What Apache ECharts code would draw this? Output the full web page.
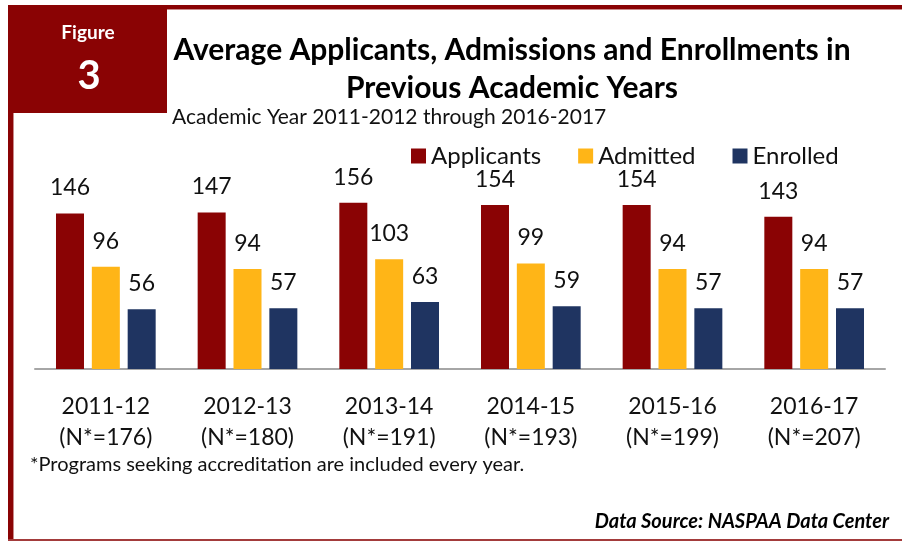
<!DOCTYPE html>
<html>
<head>
<meta charset="utf-8">
<script src="https://cdn.jsdelivr.net/npm/echarts@6/dist/echarts.min.js"></script>
<style>
  html, body { margin: 0; padding: 0; background: #fff; }
  #chart { width: 902px; height: 542px; }
</style>
</head>
<body>
<div id="chart"></div>
<script>
// data
const years = ["2011-12", "2012-13", "2013-14", "2014-15", "2015-16", "2016-17"];
const programCounts = [176, 180, 191, 193, 199, 207];
const applicants = [146, 147, 156, 154, 154, 143];
const admitted = [96, 94, 103, 99, 94, 94];
const enrolled = [56, 57, 63, 59, 57, 57];

const FONT = "Lato, 'Open Sans', sans-serif";
const RED = "#8a0304";
const GOLD = "#ffb517";
const NAVY = "#1f3461";

const categories = years.map((y, i) => y + "\n(N*=" + programCounts[i] + ")");

function barSeries(name, data, color) {
  return {
    name: name,
    type: "bar",
    data: data,
    barWidth: 28,
    barGap: "28%",
    itemStyle: { color: color },
    label: {
      show: true,
      position: "top",
      distance: 14,
      color: "#111",
      fontSize: 23,
      fontFamily: FONT
    }
  };
}

const chart = echarts.init(document.getElementById("chart"));
chart.setOption({
  animation: false,
  backgroundColor: "#fff",
  grid: { left: 35, right: 17, top: 156, bottom: 173 },
  legend: {
    data: ["Applicants", "Admitted", "Enrolled"],
    left: 406,
    top: 139,
    itemWidth: 15,
    itemHeight: 15,
    itemGap: 37,
    icon: "rect",
    textStyle: { fontSize: 24, color: "#111", fontFamily: FONT }
  },
  xAxis: {
    type: "category",
    data: categories,
    axisLine: { lineStyle: { color: "#a6a6a6", width: 2 } },
    axisTick: { show: false },
    axisLabel: {
      margin: 22,
      color: "#111",
      fontSize: 23,
      lineHeight: 31,
      fontFamily: FONT
    }
  },
  yAxis: {
    type: "value",
    min: 0,
    max: 200,
    show: false
  },
  series: [
    barSeries("Applicants", applicants, RED),
    barSeries("Admitted", admitted, GOLD),
    barSeries("Enrolled", enrolled, NAVY)
  ],
  graphic: [
    // frame
    { type: "rect", shape: { x: 8, y: 5, width: 900, height: 4 }, style: { fill: RED } },
    { type: "rect", shape: { x: 8, y: 9, width: 900, height: 1 }, style: { fill: "#c98a8a" } },
    { type: "rect", shape: { x: 8, y: 5, width: 5, height: 536 }, style: { fill: RED } },
    { type: "rect", shape: { x: 13, y: 5, width: 1, height: 536 }, style: { fill: "#c98a8a" } },
    { type: "rect", shape: { x: 8, y: 539, width: 900, height: 2 }, style: { fill: "#a33b3b" } },
    // figure box
    { type: "rect", shape: { x: 8, y: 5, width: 159, height: 108, r: [5, 0, 0, 0] }, style: { fill: RED } },
    {
      type: "text", x: 88, y: 33,
      style: { text: "Figure", fill: "#fff", font: "bold 19px " + FONT, align: "center", verticalAlign: "middle" }
    },
    {
      type: "text", x: 89, y: 76,
      style: { text: "3", fill: "#fff", font: "bold 40px " + FONT, align: "center", verticalAlign: "middle" }
    },
    // titles
    {
      type: "text", x: 512, y: 50,
      style: { text: "Average Applicants, Admissions and Enrollments in", fill: "#000", font: "bold 30px " + FONT, align: "center", verticalAlign: "middle" }
    },
    {
      type: "text", x: 512, y: 88,
      style: { text: "Previous Academic Years", fill: "#000", font: "bold 30px " + FONT, align: "center", verticalAlign: "middle" }
    },
    {
      type: "text", x: 172, y: 117,
      style: { text: "Academic Year 2011-2012 through 2016-2017", fill: "#111", font: "21px " + FONT, align: "left", verticalAlign: "middle" }
    },
    {
      type: "text", x: 30, y: 465,
      style: { text: "*Programs seeking accreditation are included every year.", fill: "#111", font: "20px " + FONT, align: "left", verticalAlign: "middle" }
    },
    {
      type: "text", x: 889, y: 522,
      style: { text: "Data Source: NASPAA Data Center", fill: "#000", font: "italic bold 20px " + FONT, align: "right", verticalAlign: "middle" }
    }
  ]
});
</script>
</body>
</html>
